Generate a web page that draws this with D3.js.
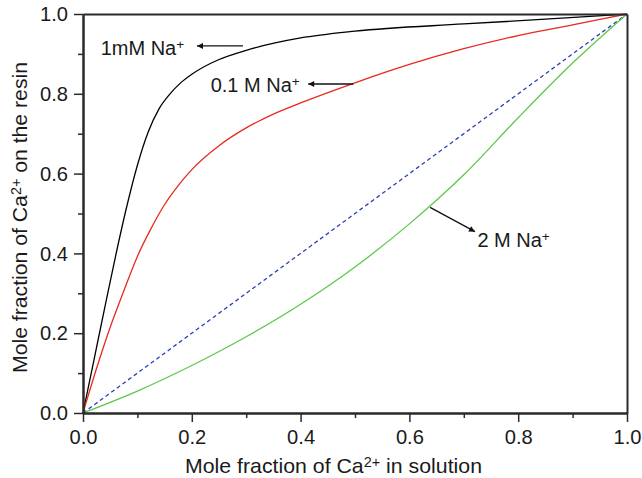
<!DOCTYPE html>
<html>
<head>
<meta charset="utf-8">
<script src="https://cdn.jsdelivr.net/npm/d3@7"></script>
<style>
  body { margin: 0; background: #fff; }
  svg { display: block; }
</style>
</head>
<body>
<div id="chart"></div>
<script>
// Isotherm data [mole fraction in solution, mole fraction on resin]
const na1mM = [[0, 0], [0.02, 0.132], [0.04, 0.264], [0.06, 0.394], [0.08, 0.515], [0.1, 0.621],
  [0.12, 0.705], [0.14, 0.763], [0.16, 0.8], [0.18, 0.828], [0.2, 0.849], [0.25, 0.886],
  [0.3, 0.909], [0.4, 0.94], [0.5, 0.957], [0.7, 0.975], [0.85, 0.987], [1, 1]]
const na01M = [[0, 0], [0.025, 0.112], [0.05, 0.215], [0.075, 0.306], [0.1, 0.3925], [0.125, 0.462],
  [0.15, 0.5225], [0.175, 0.57], [0.2, 0.61], [0.25, 0.67], [0.3, 0.7145], [0.35, 0.749],
  [0.4, 0.777], [0.5, 0.8275], [0.6, 0.8735], [0.7, 0.913], [0.8, 0.946], [0.9, 0.973], [1, 1]]
const na2M = [[0, 0], [0.1, 0.055], [0.2, 0.119], [0.3, 0.191], [0.4, 0.2725], [0.5, 0.366],
  [0.6, 0.474], [0.7, 0.597], [0.8, 0.74], [0.9, 0.877], [1, 1]]
const diagonal = [[0, 0], [1, 1]]

const xTicks = [0, 0.2, 0.4, 0.6, 0.8, 1.0]
const yTicks = [0, 0.2, 0.4, 0.6, 0.8, 1.0]
const minorTicks = [0.1, 0.3, 0.5, 0.7, 0.9]

// Annotation labels: text start, arrow tail and arrow tip in data units
const labels = [
  {text: '1mM Na', at: [0.0325, 0.897], from: [0.294, 0.92], to: [0.2096, 0.92]},
  {text: '0.1 M Na', at: [0.2347, 0.805], from: [0.497, 0.8246], to: [0.414, 0.8246]},
  {text: '2 M Na', at: [0.725, 0.4168], from: [0.638, 0.5155], to: [0.7206, 0.4544]}
]

const series = [
  {data: na1mM, color: '#000000', dash: null},
  {data: na01M, color: '#e8291f', dash: null},
  {data: diagonal, color: '#2b3fb5', dash: '4,3'},
  {data: na2M, color: '#5cc84a', dash: null}
]

const margin = {left: 83, right: 15, top: 14, bottom: 65}
const width = 544
const height = 399
const font = '"Liberation Sans", Arial, Helvetica, sans-serif'

const svg = d3.select('#chart')
  .append('svg')
  .attr('width', 642)
  .attr('height', 478)
  .style('font-family', font)

const x = d3.scaleLinear().domain([0, 1]).range([0, width])
const y = d3.scaleLinear().domain([0, 1]).range([height, 0])

const g = svg.append('g')
  .attr('transform', `translate(${margin.left},${margin.top})`)

// Arrow head marker
svg.append('defs').append('marker')
  .attr('id', 'arrow')
  .attr('viewBox', '0 0 10 10')
  .attr('refX', 10)
  .attr('refY', 5)
  .attr('markerWidth', 9)
  .attr('markerHeight', 6)
  .attr('markerUnits', 'userSpaceOnUse')
  .attr('orient', 'auto')
  .append('path')
  .attr('d', 'M0,0L10,5L0,10z')
  .attr('fill', '#111')

// Curves
const line = d3.line()
  .x(d => x(d[0]))
  .y(d => y(d[1]))
  .curve(d3.curveMonotoneX)

g.selectAll('.curve')
  .data(series)
  .join('path')
  .attr('class', 'curve')
  .attr('d', d => line(d.data))
  .attr('fill', 'none')
  .attr('stroke', d => d.color)
  .attr('stroke-width', 1.3)
  .attr('stroke-dasharray', d => d.dash)

// Axes
const axisColor = '#2a2a2a'
function styleAxis(sel) {
  sel.select('.domain').attr('stroke', axisColor).attr('stroke-width', 2)
  sel.selectAll('.tick line').attr('stroke', axisColor).attr('stroke-width', 1.5)
  sel.selectAll('.tick text')
    .attr('fill', '#1a1a1a')
    .style('font-size', '21px')
    .style('font-family', font)
    .attr('textLength', 28)
    .attr('lengthAdjust', 'spacingAndGlyphs')
}

const fmt = d3.format('.1f')

g.append('g')
  .attr('transform', `translate(0,${height})`)
  .call(d3.axisBottom(x).tickValues(minorTicks).tickSize(5).tickFormat('').tickSizeOuter(0))
  .call(styleAxis)
g.append('g')
  .attr('transform', `translate(0,${height})`)
  .call(d3.axisBottom(x).tickValues(xTicks).tickSize(9).tickPadding(7).tickFormat(fmt).tickSizeOuter(0))
  .call(styleAxis)

g.append('g')
  .call(d3.axisLeft(y).tickValues(minorTicks).tickSize(5).tickFormat('').tickSizeOuter(0))
  .call(styleAxis)
g.append('g')
  .call(d3.axisLeft(y).tickValues(yTicks).tickSize(9).tickPadding(6).tickFormat(fmt).tickSizeOuter(0))
  .call(styleAxis)

// Top and right frame
g.append('g')
  .call(d3.axisTop(x).tickValues([]).tickSizeOuter(0))
  .call(styleAxis)
g.append('g')
  .attr('transform', `translate(${width},0)`)
  .call(d3.axisRight(y).tickValues([]).tickSizeOuter(0))
  .call(styleAxis)

// Text with superscript helper
function addSup(text, main, sup, rest) {
  text.append('tspan').text(main)
  text.append('tspan').attr('dy', '-0.45em').style('font-size', '0.68em').text(sup)
  if (rest) text.append('tspan').attr('dy', '0.3em').text(rest)
}

// Axis titles
const xt = svg.append('text')
  .attr('x', 185)
  .attr('y', 473)
  .style('font-size', '21px')
  .attr('fill', '#1a1a1a')
  .attr('textLength', 297)
  .attr('lengthAdjust', 'spacingAndGlyphs')
addSup(xt, 'Mole fraction of Ca', '2+', ' in solution')

const yt = svg.append('text')
  .attr('transform', 'translate(27,373) rotate(-90)')
  .style('font-size', '21px')
  .attr('fill', '#1a1a1a')
  .attr('textLength', 311)
  .attr('lengthAdjust', 'spacingAndGlyphs')
addSup(yt, 'Mole fraction of Ca', '2+', ' on the resin')

// Annotations
labels.forEach(l => {
  const t = g.append('text')
    .attr('x', x(l.at[0]))
    .attr('y', y(l.at[1]))
    .style('font-size', '20px')
    .attr('fill', '#1a1a1a')
  addSup(t, l.text, '+')

  g.append('line')
    .attr('x1', x(l.from[0]))
    .attr('y1', y(l.from[1]))
    .attr('x2', x(l.to[0]))
    .attr('y2', y(l.to[1]))
    .attr('stroke', '#111')
    .attr('stroke-width', 1.3)
    .attr('marker-end', 'url(#arrow)')
})
</script>
</body>
</html>
